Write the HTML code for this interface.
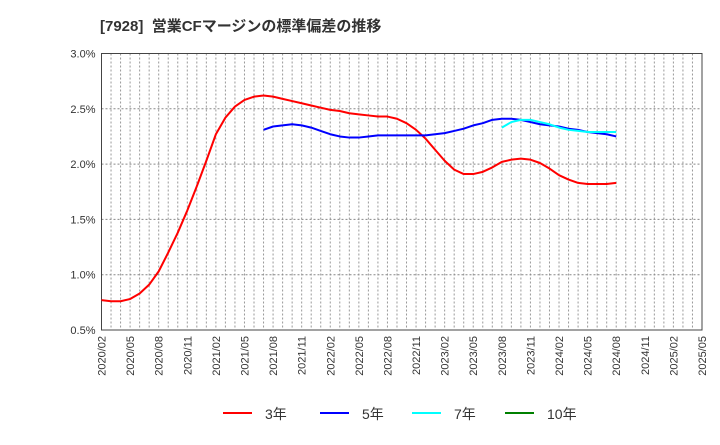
<!DOCTYPE html>
<html><head><meta charset="utf-8"><style>
body{margin:0;background:#fff;font-family:"Liberation Sans","Noto Sans CJK JP",sans-serif}
</style></head><body>
<svg width="720" height="440" xmlns="http://www.w3.org/2000/svg" font-family="Liberation Sans, Noto Sans CJK JP, sans-serif">
<text x="100" y="31" font-size="15" font-weight="bold" fill="#333">[7928]&#160; 営業CFマージンの標準偏差の推移</text>
<g id="grid"></g><g id="axes"></g><g id="series"></g><g id="legend"></g>
</svg>
<script>
const startYear=2020,startMonth=2,totalMonths=63;
const yTicks=[0.5,1.0,1.5,2.0,2.5,3.0];
const s3Start=0;
const s3=[0.77,0.76,0.76,0.78,0.83,0.91,1.03,1.2,1.38,1.58,1.8,2.03,2.27,2.42,2.52,2.58,2.61,2.62,2.61,2.59,2.57,2.55,2.53,2.51,2.49,2.48,2.46,2.45,2.44,2.43,2.43,2.41,2.37,2.31,2.23,2.13,2.03,1.95,1.91,1.91,1.93,1.97,2.02,2.04,2.05,2.04,2.01,1.96,1.90,1.86,1.83,1.82,1.82,1.82,1.83];
const s5Start=17;
const s5=[2.31,2.34,2.35,2.36,2.35,2.33,2.30,2.27,2.25,2.24,2.24,2.25,2.26,2.26,2.26,2.26,2.26,2.26,2.27,2.28,2.30,2.32,2.35,2.37,2.40,2.41,2.41,2.40,2.38,2.36,2.35,2.34,2.32,2.31,2.29,2.28,2.27,2.25];
const s7Start=42;
const s7=[2.33,2.38,2.40,2.40,2.38,2.36,2.33,2.31,2.30,2.29,2.29,2.29,2.29];
const s10Start=0;
const s10=[];
const legendLabels=["3年","5年","7年","10年"];
const colors=["#ff0000","#0000ff","#00ffff","#008000"];
const L=101.5,R=702,T=53.5,B=330;
const NS="http://www.w3.org/2000/svg";
const X=m=>L+(R-L)*m/totalMonths;
const Y=v=>B-(B-T)*(v-0.5)/2.5;
function mk(t,a,p){const e=document.createElementNS(NS,t);for(const k in a)e.setAttribute(k,a[k]);p.appendChild(e);return e;}
const grid=document.getElementById('grid'),axes=document.getElementById('axes'),ser=document.getElementById('series'),leg=document.getElementById('legend');
for(let m=1;m<totalMonths;m++){const l=mk('line',{x1:X(m),x2:X(m),y1:T,y2:B,stroke:'#999','stroke-dasharray':'2,2','stroke-width':1},grid);

}
yTicks.forEach(v=>{if(v>0.5&&v<3){const l=mk('line',{x1:L,x2:R,y1:Y(v),y2:Y(v),stroke:'#888','stroke-dasharray':'2,2','stroke-width':1},grid);

}
const t=mk('text',{x:L-6,y:Y(v)+4,'text-anchor':'end','font-size':11,fill:'#333'},axes);t.textContent=v.toFixed(1)+'%';

});
const fr=mk('rect',{x:L,y:T,width:R-L,height:B-T,fill:'none',stroke:'#444','stroke-width':1},axes);


for(let m=0;m<=totalMonths;m+=3){const mm=startMonth-1+m;const y=startYear+Math.floor(mm/12),mo=mm%12+1;
const x=X(m);const t=mk('text',{x:x+4,y:B+6,'text-anchor':'end','font-size':11,fill:'#333',transform:`rotate(-90 ${x+4} ${B+6})`},axes);
t.textContent=y+'/'+String(mo).padStart(2,'0');

}
[[s3,s3Start],[s5,s5Start],[s7,s7Start],[s10,s10Start]].forEach((d,i)=>{if(!d[0].length)return;
const p=mk('polyline',{points:d[0].map((v,j)=>X(d[1]+j)+','+Y(v)).join(' '),fill:'none',stroke:colors[i],'stroke-width':2,'stroke-linejoin':'round'},ser);

});
const lx=[223,320,412,505];
legendLabels.forEach((s,i)=>{const g=mk('g',{},leg);


mk('line',{x1:lx[i],x2:lx[i]+29,y1:413,y2:413,stroke:colors[i],'stroke-width':2},g);
const t=mk('text',{x:lx[i]+42,y:419,'font-size':14,fill:'#333'},g);t.textContent=s;});
</script>
</body></html>
